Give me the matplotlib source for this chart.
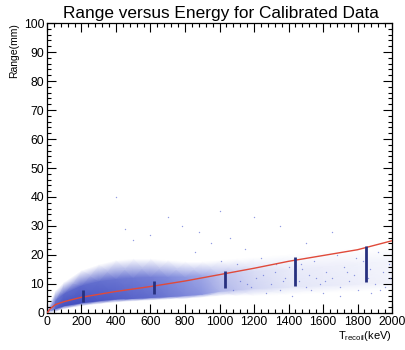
import numpy as np
import matplotlib.pyplot as plt
from matplotlib.colors import LinearSegmentedColormap
from matplotlib.ticker import MultipleLocator

plt.rcParams['font.family'] = ['Liberation Sans', 'DejaVu Sans']
plt.rcParams['mathtext.fontset'] = 'custom'
plt.rcParams['mathtext.rm'] = 'Liberation Sans'

# event cloud (keV / mm)
cloud_e = [0, 50, 100, 200, 300, 400, 500, 600, 700, 800, 900, 1000, 1100, 1200, 1400, 1600, 1800, 2000]
cloud_lo = [0, 0.5, 1.5, 2.5, 3.2, 3.8, 4.2, 4.5, 4.8, 5.0, 5.5, 6.0, 6.0, 6.0, 6.5, 7.0, 7.5, 8.0]
core_lo = [0.3, 1.5, 2.5, 3.5, 4.2, 4.8, 5.0, 5.3, 5.6, 6.0, 6.5, 7.5, 8.0, 8.5, 9.0, 9.5, 10.0, 10.5]
core_hi = [0.8, 4.5, 6.8, 9.5, 11.0, 11.8, 12.2, 12.5, 12.5, 12.5, 13.0, 13.5, 14.0, 14.5, 15.0, 16.0, 17.0, 18.0]
cloud_hi = [1.5, 7.5, 10.5, 14.5, 16.5, 18.0, 18.5, 18.5, 18.0, 17.5, 17.5, 18.0, 18.5, 19.0, 20.0, 21.0, 22.0, 23.0]
core_density = [0.25, 0.9, 1.0, 1.0, 0.95, 0.9, 0.85, 0.8, 0.7, 0.6, 0.5, 0.35, 0.28, 0.2, 0.12, 0.1, 0.08, 0.06]

# isolated events outside the dense band
sparse_e = [1300, 1320, 1350, 1380, 1400, 1420, 1460, 1480, 1500, 1520, 1550, 1580, 1600, 1620,
            1650, 1680, 1700, 1720, 1750, 1780, 1800, 1830, 1870, 1900, 1920, 1950, 1980, 1240,
            1150, 1100, 1060, 950, 880, 780, 700, 1500, 1650, 1350, 600, 500, 450, 1000, 1200,
            400, 1120, 1250, 1560, 1700, 1880, 1960, 860, 1010, 1180, 1270, 1330, 1440, 1530,
            1610, 1740, 1790, 1860, 1930, 1990, 1080, 1160, 1210, 1370, 1470]
sparse_r = [10, 14, 8, 12, 16, 6, 11, 15, 9, 13, 18, 10, 7, 14,
            12, 20, 9, 16, 11, 13, 8, 18, 15, 10, 21, 14, 17, 19,
            22, 17, 26, 24, 28, 30, 33, 24, 28, 30, 27, 25, 29, 35, 33,
            40, 11, 13, 12, 6, 7, 9, 21, 18, 9, 7, 17, 13, 8,
            11, 14, 19, 12, 8, 12, 8, 10, 12, 11, 17]

# fitted range curve
fit_e = [0, 20, 50, 100, 200, 400, 600, 800, 1000, 1200, 1400, 1600, 1800, 2000]
fit_r = [0, 1.5, 2.9, 3.9, 5.4, 7.4, 9.1, 11.0, 13.2, 15.4, 17.8, 19.8, 21.8, 24.9]

# spread bars
bar_e = [210, 620, 1030, 1435, 1848]
bar_lo = [3.6, 6.5, 8.5, 9.4, 10.8]
bar_hi = [7.9, 11.1, 14.6, 19.4, 23.1]

fig = plt.figure(figsize=(4.05, 3.5), dpi=100)
ax = fig.add_axes([0.116, 0.106, 0.852, 0.828])

cmap = LinearSegmentedColormap.from_list('cloud', ['#ffffff', '#8a94e0', '#4450c0'])
n = len(cloud_e)
X = np.tile(np.array(cloud_e, dtype=float), (4, 1))
Y = np.vstack([cloud_lo, core_lo, core_hi, cloud_hi]).astype(float)
C = np.vstack([np.zeros(n), core_density, np.array(core_density) * 0.8, np.zeros(n)])
ax.pcolormesh(X, Y, C, cmap=cmap, vmin=0, vmax=1, shading='gouraud', zorder=1)

ax.scatter(sparse_e, sparse_r, s=1.0, color='#4a5ad0', alpha=0.6, linewidths=0, zorder=2)

ax.plot(fit_e, fit_r, color='#e04a3a', lw=1.0, zorder=3)
ax.vlines(bar_e, bar_lo, bar_hi, color='#27307f', lw=2.0, zorder=4)

ax.set_xlim(0, 2000)
ax.set_ylim(0, 100)
ax.xaxis.set_major_locator(MultipleLocator(200))
ax.xaxis.set_minor_locator(MultipleLocator(40))
ax.yaxis.set_major_locator(MultipleLocator(10))
ax.yaxis.set_minor_locator(MultipleLocator(2))
ax.tick_params(which='both', direction='in', top=True, right=True, labelsize=8.8, width=0.8)
ax.tick_params(which='major', length=6.5, pad=2)
ax.tick_params(which='minor', length=3.2)
for s in ax.spines.values():
    s.set_linewidth(0.9)

ax.set_xlabel(r'T$_{\mathrm{recoil}}$(keV)', loc='right', fontsize=8, labelpad=1)
ax.set_ylabel('Range(mm)', loc='top', fontsize=7.5, labelpad=3)
fig.text(0.545, 0.962, 'Range versus Energy for Calibrated Data', ha='center', va='center', fontsize=12.4)

fig.savefig('out.png', dpi=100)
